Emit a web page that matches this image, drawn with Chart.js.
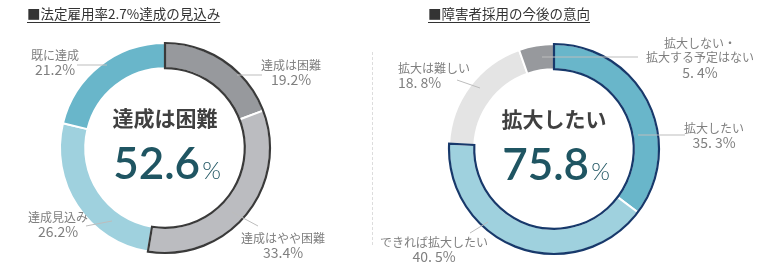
<!DOCTYPE html>
<html>
<head>
<meta charset="utf-8">
<script src="https://cdn.jsdelivr.net/npm/chart.js@4"></script>
<style>
  body { margin: 0; background: #fff; font-family: "Noto Sans CJK JP", sans-serif; }
  #wrap { position: relative; width: 780px; height: 274px; overflow: hidden; }
  .title { position: absolute; top: 4px; font-size: 13.5px; color: #333; line-height: 18px;
           text-decoration: underline; text-underline-offset: 3px; white-space: nowrap; }
  .box { position: absolute; top: 0; height: 274px; }
  #sep { position: absolute; left: 372px; top: 52px; height: 193px; border-left: 1px dashed #ddd; }
</style>
</head>
<body>
<div id="wrap">
  <div class="box" style="left:0;width:372px"><canvas id="left"></canvas></div>
  <div class="box" style="left:372px;width:408px"><canvas id="right"></canvas></div>
  <div id="sep"></div>
  <div class="title" style="left:27px">■法定雇用率2.7%達成の見込み</div>
  <div class="title" style="left:428px">■障害者採用の今後の意向</div>
</div>
<script>
// data
const leftLabels = ['達成は困難', '達成はやや困難', '達成見込み', '既に達成'];
const leftValues = [19.2, 33.4, 26.2, 21.2];
const leftColors = ['#97999d', '#bbbcc0', '#9fd1de', '#69b6ca'];

const rightLabels = ['拡大したい', 'できれば拡大したい', '拡大は難しい', '拡大しない・|拡大する予定はない'];
const rightValues = [35.3, 40.5, 18.8, 5.4];
const rightColors = ['#69b6ca', '#9fd1de', '#e4e4e4', '#97999d'];

// label placement, relative to donut center
const leftLayout = [
  { x: 126, y: -83, align: 'center', line: [72, -73, 97, -73] },
  { x: 118, y: 90, align: 'center', line: [67, 64, 93, 78] },
  { x: -107, y: 69, align: 'center', line: [-79, 78, -53, 73] },
  { x: -110, y: -93, align: 'center', line: [-88, -83, -58, -83] }
];
const rightLayout = [
  { x: 160, y: -21, align: 'center', line: [84, -14, 131, -14] },
  { x: -120, y: 93, align: 'center', line: [-84, 84, -66, 73] },
  { x: -156, y: -81, align: 'left', line: [-97, -69, -74, -61] },
  { x: 146, y: -106, align: 'center', line: [-12, -92, 84, -92] }
];

const JP = '"Noto Sans CJK JP", sans-serif';

function donutPlugin(cfg) {
  return {
    id: 'donutDeco',
    afterDatasetsDraw(chart) {
      const ctx = chart.ctx;
      const meta = chart.getDatasetMeta(0);
      const first = meta.data[0];
      const last = meta.data[cfg.hiCount - 1];
      const cx = first.x, cy = first.y;

      // outline round the highlighted group
      ctx.save();
      ctx.beginPath();
      ctx.arc(cx, cy, first.outerRadius, first.startAngle, last.endAngle);
      ctx.arc(cx, cy, first.innerRadius, last.endAngle, first.startAngle, true);
      ctx.closePath();
      ctx.lineWidth = 2.2;
      ctx.strokeStyle = cfg.outline;
      ctx.stroke();

      // slice labels
      ctx.textBaseline = 'middle';
      cfg.layout.forEach((l, i) => {
        ctx.strokeStyle = '#bdbdbd';
        ctx.lineWidth = 1;
        ctx.beginPath();
        ctx.moveTo(cx + l.line[0], cy + l.line[1]);
        ctx.lineTo(cx + l.line[2], cy + l.line[3]);
        ctx.stroke();

        const rows = cfg.labels[i].split('|');
        ctx.fillStyle = '#7f7f7f';
        ctx.textAlign = l.align;
        let y = cy + l.y;
        ctx.font = '12px ' + JP;
        rows.forEach(r => { ctx.fillText(r, cx + l.x, y); y += 14.5; });
        ctx.font = '14px ' + JP;
        ctx.fillText(cfg.fmt(cfg.values[i]), cx + l.x, y + 0.5);
      });

      // center text
      ctx.textAlign = 'center';
      ctx.textBaseline = 'middle';
      ctx.fillStyle = '#404040';
      ctx.font = 'bold 21px ' + JP;
      ctx.fillText(cfg.centerTitle, cx, cy - 30);

      const total = cfg.values.slice(0, cfg.hiCount).reduce((a, b) => a + b, 0).toFixed(1);
      ctx.textBaseline = 'alphabetic';
      ctx.font = '600 44px Lato';
      const numW = ctx.measureText(total).width;
      ctx.font = '300 24px Lato';
      const pctW = ctx.measureText('%').width;
      const x0 = cx + 2 - (numW + pctW + 2) / 2;
      ctx.textAlign = 'left';
      ctx.fillStyle = '#1f5562';
      ctx.font = '600 44px Lato';
      ctx.fillText(total, x0, cy + 31);
      ctx.font = '300 24px Lato';
      ctx.fillText('%', x0 + numW + 2, cy + 31);
      ctx.restore();
    }
  };
}

function makeDonut(id, labels, values, colors, padding, deco) {
  return new Chart(document.getElementById(id), {
    type: 'doughnut',
    data: {
      labels: labels,
      datasets: [{
        data: values,
        backgroundColor: colors,
        borderColor: '#ffffff',
        borderWidth: 2
      }]
    },
    options: {
      responsive: true,
      maintainAspectRatio: false,
      animation: false,
      cutout: '76%',
      layout: { padding: padding },
      plugins: { legend: { display: false }, tooltip: { enabled: false } }
    },
    plugins: [donutPlugin(deco)]
  });
}

makeDonut('left', leftLabels, leftValues, leftColors,
  { left: 59, right: 101, top: 42, bottom: 20 },
  { hiCount: 2, outline: '#3a3a3a', layout: leftLayout, labels: leftLabels, values: leftValues,
    centerTitle: '達成は困難', fmt: v => v.toFixed(1) + '%' });

makeDonut('right', rightLabels, rightValues, rightColors,
  { left: 76, right: 120, top: 43, bottom: 19 },
  { hiCount: 2, outline: '#17396b', layout: rightLayout, labels: rightLabels, values: rightValues,
    centerTitle: '拡大したい', fmt: v => v.toFixed(1).replace('.', '. ') + '%' });
</script>
</body>
</html>
